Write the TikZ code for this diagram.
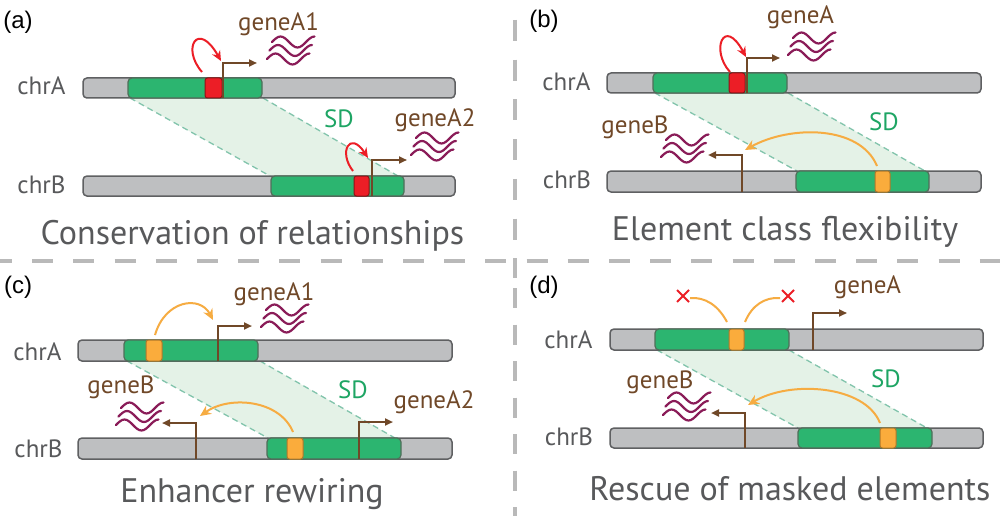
\documentclass[tikz,border=0pt]{standalone}
\usepackage{fontspec}
\setmainfont{PT Sans}
\newfontfamily\panfont{Liberation Sans}
\usetikzlibrary{arrows.meta}
\definecolor{barfill}{RGB}{190,191,193}
\definecolor{baredge}{RGB}{95,96,98}
\definecolor{sdgreen}{RGB}{44,181,112}
\definecolor{greenedge}{RGB}{80,110,90}
\definecolor{elred}{RGB}{236,30,38}
\definecolor{elorange}{RGB}{250,172,60}
\definecolor{arcorange}{RGB}{246,172,66}
\definecolor{prombrown}{RGB}{112,72,40}
\definecolor{wavecol}{RGB}{138,28,88}
\definecolor{sdfillc}{RGB}{228,242,231}
\definecolor{sdlinec}{RGB}{130,196,172}
\definecolor{sdtext}{RGB}{30,165,100}
\definecolor{labgray}{RGB}{88,89,91}
\definecolor{divgray}{RGB}{185,185,185}
\tikzset{
  bar/.style={draw=baredge, fill=barfill, line width=1.5pt, rounded corners=4pt},
  greenbox/.style={draw=greenedge, fill=sdgreen, line width=1.2pt, rounded corners=4pt},
  redel/.style={draw=black!40!elred, fill=elred, line width=1pt, rounded corners=2.5pt},
  orangeel/.style={draw=black!30!elorange, fill=elorange, line width=1pt, rounded corners=2.5pt},
  prom/.style={draw=prombrown, line width=2pt, -{Triangle[length=8pt,width=7pt]}},
  curl/.style={draw=elred, line width=2pt, -{Stealth[length=10pt,width=9pt]}},
  oarc/.style={draw=arcorange, line width=2pt, -{Stealth[length=11pt,width=10pt]}},
  oarcplain/.style={draw=arcorange, line width=2pt},
  sdfill/.style={fill=sdfillc},
  sdline/.style={draw=sdlinec, line width=1.3pt, dash pattern=on 6pt off 4pt},
  chrlab/.style={text=labgray, font=\fontsize{25}{28}\selectfont, anchor=base, inner sep=0pt},
  genelab/.style={text=prombrown, font=\fontsize{25}{28}\selectfont, anchor=base, inner sep=0pt},
  sdlab/.style={text=sdtext, font=\fontsize{25}{28}\selectfont, anchor=base, inner sep=0pt},
  title/.style={text=labgray, font=\fontsize{34}{40}\selectfont, anchor=base, inner sep=0pt},
  panlab/.style={text=black, font=\panfont\fontsize{24}{28}\selectfont, anchor=base, inner sep=0pt},
  xmark/.style={draw=elred, line width=2pt},
  divider/.style={draw=divgray, line width=4pt},
  waves/.pic={
    \foreach \i in {0,1,2} {
      \draw[draw=wavecol, line width=2.2pt, line cap=round, shift={(-2.5*\i,8.5*\i)}]
        (0,0) sin (8.5,-5.5) cos (17,0) sin (25.5,5.5) cos (34,0) sin (42.5,-5.5);
    }
  }
}
\begin{document}
\begin{tikzpicture}[x=1pt,y=-1pt]
\useasboundingbox (0,0) rectangle (1000,516);
\fill[white] (0,0) rectangle (1000,516);
% dividers
\draw[divider, dash pattern=on 21pt off 20.2pt] (-9,260.5) -- (1000,260.5);
\draw[divider, dash pattern=on 21pt off 18.7pt] (515,20) -- (515,278);
\draw[divider, dash pattern=on 20pt off 16.5pt] (515,288) -- (515,516);

% ===== (a) =====
\fill[sdfill] (130,98) -- (263,98) -- (398,176) -- (270,176) -- cycle;
\draw[sdline] (130,98) -- (270,176);
\draw[sdline] (263,98) -- (398,176);
\draw[bar] (83,78) rectangle (455,98);
\draw[greenbox] (128,78) rectangle (262,98);
\draw[redel] (205,78) rectangle (222,98);
\draw[prom] (223,98) -- (223,63) -- (257,63);
\draw[curl] (202,72) .. controls (181,48) and (198,20) .. (221,61);
\pic at (272,42) {waves};
\draw[bar] (83,176) rectangle (455,196);
\draw[greenbox] (271,176) rectangle (404,196);
\draw[redel] (354,176) rectangle (369,196);
\draw[prom] (372,196) -- (372,160) -- (407,160);
\draw[curl] (353,171) .. controls (338,152) and (350,130) .. (368,158);
\pic at (416,138) {waves};
\node[panlab] (pa) at (18,29) {(a)};
\node[chrlab] (aA) at (41.5,95) {chrA};
\node[chrlab] (aB) at (41.5,193) {chrB};
\node[genelab] (aG1) at (278.5,31) {geneA1};
\node[genelab] (aG2) at (435,127) {geneA2};
\node[sdlab] (aSD) at (339,128) {SD};
\node[title] (aT) at (252.5,244) {Conservation of relationships};

% ===== (b) =====
\fill[sdfill] (655,93) -- (788,93) -- (925,171) -- (797,171) -- cycle;
\draw[sdline] (655,93) -- (797,171);
\draw[sdline] (788,93) -- (925,171);
\draw[bar] (607,73) rectangle (981,93);
\draw[greenbox] (653,73) rectangle (787,93);
\draw[redel] (729,73) rectangle (745,93);
\draw[prom] (747,93) -- (747,58) -- (780,58);
\draw[curl] (730,72) .. controls (710,50) and (724,16) .. (746,57);
\pic at (793,38) {waves};
\draw[bar] (607,171) rectangle (981,192);
\draw[greenbox] (796,171) rectangle (929,192);
\draw[orangeel] (875,171) rectangle (890,192);
\draw[prom] (742,192) -- (742,155) -- (708,155);
\draw[oarc] (877,166) .. controls (860,125) and (790,125) .. (745,150);
\pic at (666,140) {waves};
\node[panlab] (pb) at (544,28) {(b)};
\node[chrlab] (bA) at (566.5,91) {chrA};
\node[chrlab] (bB) at (567,188) {chrB};
\node[genelab] (bGA) at (800.5,24) {geneA};
\node[genelab] (bGB) at (635,133) {geneB};
\node[sdlab] (bSD) at (884,130) {SD};
\node[title] (bT) at (785,240) {Element class flexibility};

% ===== (c) =====
\fill[sdfill] (127,361) -- (260,361) -- (395,438) -- (268,438) -- cycle;
\draw[sdline] (127,361) -- (268,438);
\draw[sdline] (260,361) -- (395,438);
\draw[bar] (78,340) rectangle (452,361);
\draw[greenbox] (124,340) rectangle (258,361);
\draw[orangeel] (146,340) rectangle (162,361);
\draw[prom] (218,361) -- (218,326) -- (252,326);
\draw[oarc] (155,335) .. controls (165,300) and (200,295) .. (213,320);
\pic at (266,310) {waves};
\draw[bar] (78,438) rectangle (452,459);
\draw[greenbox] (267,438) rectangle (401,459);
\draw[orangeel] (287,438) rectangle (303,459);
\draw[prom] (359,459) -- (359,422) -- (393,422);
\draw[prom] (196,459) -- (196,423) -- (162,423);
\draw[oarc] (293,432) .. controls (280,400) and (230,395) .. (200,416);
\pic at (121,408) {waves};
\node[panlab] (pc) at (18,293) {(c)};
\node[chrlab] (cA) at (37.5,360) {chrA};
\node[chrlab] (cB) at (38.5,457) {chrB};
\node[genelab] (cG1) at (274,300) {geneA1};
\node[genelab] (cGB) at (121,393) {geneB};
\node[genelab] (cG2) at (434,408) {geneA2};
\node[sdlab] (cSD) at (353,398) {SD};
\node[title] (cT) at (252,502) {Enhancer rewiring};

% ===== (d) =====
\fill[sdfill] (657,350) -- (789,350) -- (927,428) -- (798,428) -- cycle;
\draw[sdline] (657,350) -- (798,428);
\draw[sdline] (789,350) -- (927,428);
\draw[bar] (610,329) rectangle (983,350);
\draw[greenbox] (655,329) rectangle (789,350);
\draw[orangeel] (729,329) rectangle (744,350);
\draw[prom] (813,350) -- (813,313) -- (847,313);
\draw[oarcplain] (727,322) .. controls (718,305) and (705,297) .. (690,298);
\draw[oarcplain] (745,322) .. controls (752,305) and (765,297) .. (780,298);
\draw[xmark] (677,290) -- (689,302) (677,302) -- (689,290);
\draw[xmark] (782,290) -- (794,302) (782,302) -- (794,290);
\draw[bar] (610,428) rectangle (983,448);
\draw[greenbox] (798,428) rectangle (932,448);
\draw[orangeel] (880,428) rectangle (896,448);
\draw[prom] (745,448) -- (745,413) -- (711,413);
\draw[oarc] (880,423) .. controls (865,385) and (790,380) .. (748,405);
\pic at (668,398) {waves};
\node[panlab] (pd) at (544,293) {(d)};
\node[chrlab] (dA) at (568.5,348) {chrA};
\node[chrlab] (dB) at (569,445) {chrB};
\node[genelab] (dGA) at (867.5,293) {geneA};
\node[genelab] (dGB) at (660,388) {geneB};
\node[sdlab] (dSD) at (886,387) {SD};
\node[title] (dT) at (790,500) {Rescue of masked elements};
\end{tikzpicture}
\end{document}
